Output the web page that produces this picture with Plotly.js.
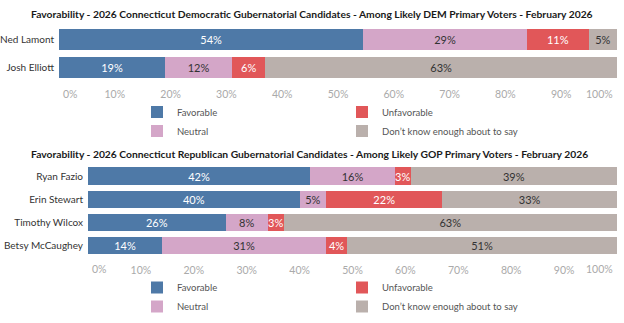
<!DOCTYPE html>
<html>
<head>
<meta charset="utf-8">
<script src="https://cdn.plot.ly/plotly-3.0.1.min.js"></script>
<style>html,body{margin:0;padding:0;background:#fff;}#chart{width:624px;height:323px;}</style>
</head>
<body>
<div id="chart"></div>
<script>
// ---- data ----
const demCandidates = ['Ned Lamont', 'Josh Elliott'];
const demFavorable = [54, 19];
const demNeutral = [29, 12];
const demUnfavorable = [11, 6];
const demDontKnow = [5, 63];

const gopCandidates = ['Ryan Fazio', 'Erin Stewart', 'Timothy Wilcox', 'Betsy McCaughey'];
const gopFavorable = [42, 40, 26, 14];
const gopNeutral = [16, 5, 8, 31];
const gopUnfavorable = [3, 22, 3, 4];
const gopDontKnow = [39, 33, 63, 51];

const seriesNames = ['Favorable', 'Neutral', 'Unfavorable', "Don\u2019t know enough about to say"];
const tickValues = [0, 10, 20, 30, 40, 50, 60, 70, 80, 90, 100];
const tickLabels = tickValues.map(v => v + '%');

const titleDem = 'Favorability - 2026 Connecticut Democratic Gubernatorial Candidates - Among Likely DEM Primary Voters - February 2026';
const titleGop = 'Favorability - 2026 Connecticut Republican Gubernatorial Candidates - Among Likely GOP Primary Voters - February 2026';

// ---- styles ----
const FONT = 'Lato, "Open Sans", sans-serif';
const colors = ['#4e79a7', '#d4a6c8', '#e15759', '#bab0ac'];
const textColors = ['#ffffff', '#333333', '#ffffff', '#333333'];
const W = 624, H = 323;

function mkTraces(cands, vals, xa, ya, legends) {
  return vals.map((v, i) => ({
    type: 'bar', orientation: 'h',
    y: cands, x: v,
    text: v.map(n => n + '%'),
    textposition: 'inside', insidetextanchor: 'middle', textangle: 0,
    constraintext: 'none',
    textfont: {family: FONT, size: 11, color: textColors[i]},
    insidetextfont: {family: FONT, size: 11, color: textColors[i]},
    marker: {color: colors[i], line: {width: 0}},
    name: seriesNames[i],
    xaxis: xa, yaxis: ya,
    legend: legends[i],
    hoverinfo: 'skip'
  }));
}

const traces = [].concat(
  mkTraces(demCandidates, [demFavorable, demNeutral, demUnfavorable, demDontKnow], 'x', 'y',
    ['legend', 'legend', 'legend2', 'legend2']),
  mkTraces(gopCandidates, [gopFavorable, gopNeutral, gopUnfavorable, gopDontKnow], 'x2', 'y2',
    ['legend3', 'legend3', 'legend4', 'legend4'])
);

const innerTicks = tickValues.slice(1, -1);
const innerLabels = tickLabels.slice(1, -1);

function xAxis(domain, anchor) {
  return {
    domain: domain, anchor: anchor, range: [0, 100],
    showgrid: false, zeroline: false, showline: false, ticks: '',
    tickvals: innerTicks, ticktext: innerLabels,
    tickfont: {family: FONT, size: 10.5, color: '#aaaaaa'},
    ticklabelstandoff: 5, fixedrange: true
  };
}
function yAxis(domain, anchor) {
  return {
    domain: domain, anchor: anchor, type: 'category', autorange: 'reversed',
    showgrid: false, zeroline: false, showline: false, ticks: '',
    tickfont: {family: FONT, size: 10, color: '#333333'},
    ticklabelstandoff: 4, fixedrange: true
  };
}

function legendAt(px, pyTop) {
  return {
    x: px / W, xanchor: 'left', y: 1 - pyTop / H, yanchor: 'top',
    orientation: 'v', traceorder: 'normal', bgcolor: 'rgba(0,0,0,0)', borderwidth: 0,
    font: {family: FONT, size: 9.5, color: '#555555'},
    itemclick: false, itemdoubleclick: false
  };
}

// end tick labels kept inside the axis extent (Tableau style)
function endLabels(xref, yref, yshift) {
  return [
    {xref: xref, yref: yref, x: tickValues[0], y: 0, text: tickLabels[0], showarrow: false,
     xanchor: 'left', yanchor: 'middle', xshift: 2, yshift: yshift,
     font: {family: FONT, size: 10.5, color: '#aaaaaa'}},
    {xref: xref, yref: yref, x: tickValues[tickValues.length - 1], y: 0, text: tickLabels[tickLabels.length - 1], showarrow: false,
     xanchor: 'right', yanchor: 'middle', xshift: -2, yshift: yshift,
     font: {family: FONT, size: 10.5, color: '#aaaaaa'}}
  ];
}

const layout = {
  width: W, height: H,
  margin: {l: 0, r: 0, t: 0, b: 0, pad: 0},
  paper_bgcolor: '#ffffff', plot_bgcolor: '#ffffff',
  barmode: 'stack', barnorm: 'percent', bargap: 0.25,
  font: {family: FONT},
  xaxis: xAxis([59 / W, 617 / W], 'y'),
  yaxis: yAxis([1 - 81.5 / H, 1 - 25.5 / H], 'x'),
  xaxis2: xAxis([88 / W, 617 / W], 'y2'),
  yaxis2: yAxis([1 - 257 / H, 1 - 164.5 / H], 'x2'),
  showlegend: true,
  legend: legendAt(137, 97.5),
  legend2: legendAt(342, 97.5),
  legend3: legendAt(137, 273),
  legend4: legendAt(342, 273),
  annotations: [
    {xref: 'paper', yref: 'paper', x: 0.5, y: 1 - 14 / H, xanchor: 'center', yanchor: 'middle',
     text: '<b>' + titleDem + '</b>', showarrow: false,
     font: {family: FONT, size: 10.3, color: '#1a1a1a'}},
    {xref: 'paper', yref: 'paper', x: 309 / W, y: 1 - 154 / H, xanchor: 'center', yanchor: 'middle',
     text: '<b>' + titleGop + '</b>', showarrow: false,
     font: {family: FONT, size: 10.3, color: '#1a1a1a'}}
  ].concat(endLabels('x', 'y domain', -12.5), endLabels('x2', 'y2 domain', -12))
};

Plotly.newPlot('chart', traces, layout, {displayModeBar: false, staticPlot: true});
</script>
</body>
</html>
